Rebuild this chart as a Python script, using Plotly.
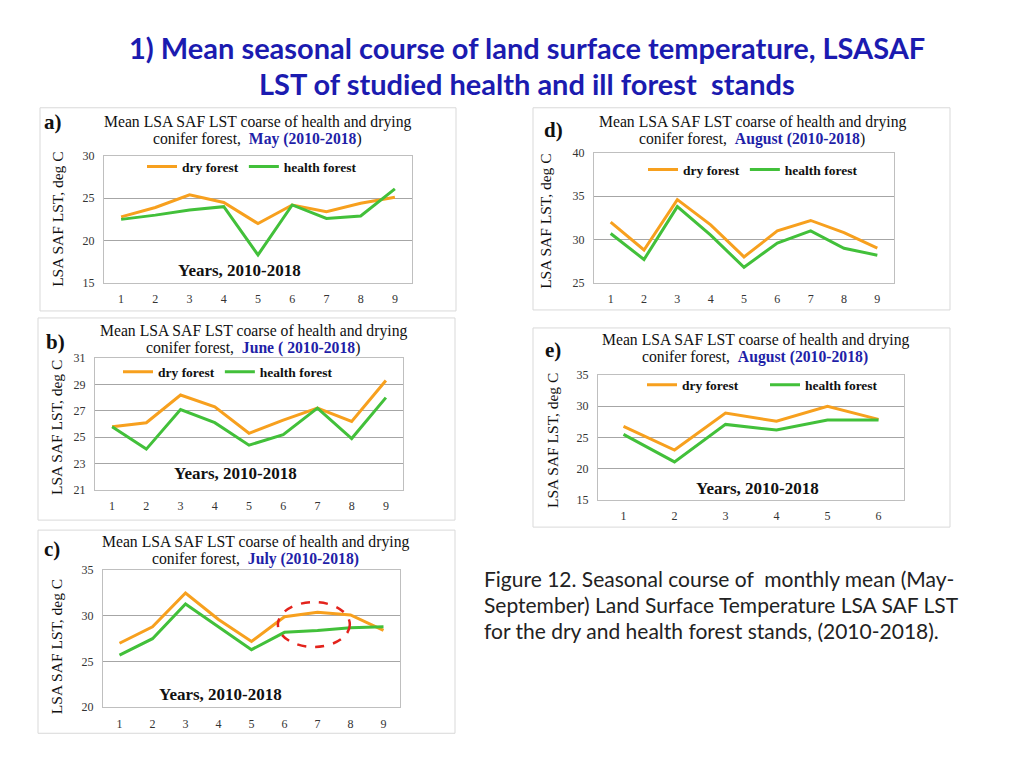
import plotly.graph_objects as go

W, H = 1024, 768

# ---------------- data ----------------
years9 = [1, 2, 3, 4, 5, 6, 7, 8, 9]
years6 = [1, 2, 3, 4, 5, 6]

may_dry = [22.8, 23.9, 25.4, 24.5, 22.0, 24.2, 23.4, 24.4, 25.1]
may_health = [22.5, 23.0, 23.6, 24.0, 18.3, 24.2, 22.6, 22.9, 26.1]

june_dry = [25.8, 26.1, 28.2, 27.3, 25.3, 26.3, 27.2, 26.2, 29.3]
june_health = [25.8, 24.1, 27.1, 26.1, 24.4, 25.2, 27.2, 24.9, 28.0]

july_dry = [27.0, 28.8, 32.5, 29.6, 27.2, 29.9, 30.4, 30.1, 28.4]
july_health = [25.7, 27.5, 31.3, 28.8, 26.3, 28.2, 28.4, 28.7, 28.8]

aug_dry = [32.0, 28.8, 34.6, 31.7, 28.0, 31.0, 32.2, 30.8, 29.0]
aug_health = [30.7, 27.7, 33.8, 30.5, 26.8, 29.6, 31.0, 29.0, 28.2]

aug2_dry = [26.8, 23.0, 28.9, 27.6, 30.0, 27.9]
aug2_health = [25.5, 21.1, 27.1, 26.2, 27.8, 27.8]

series_names = ["dry forest", "health forest"]
ORANGE = "#F7A01E"
GREEN = "#42C03A"
BLUE = "#1F1FA8"
TITLE_BLUE = "#1B1BB0"
SERIF = "Liberation Serif, Times New Roman, serif"
SANS = "Lato, Calibri, sans-serif"

def px(x):
    return x / W

def py(y):
    # compensate the small vertical offset/scale seen in the rendered page
    yd = (y - 7.3) / 0.981
    return 1 - yd / H

panels = [
    dict(lab="a)", ax="", xs=years9, dry=may_dry, hl=may_health,
         box=(104, 156, 412, 283), frame=(40, 108, 456, 311), yr=(15, 30), dt=5,
         month="<b>May (2010-2018</b>)", tcx=257, ty=122, labpos=(53, 122),
         leg=(142, 167), legw=0, years=(239, 271), ytit=(58, 220)),
    dict(lab="d)", ax="2", xs=years9, dry=aug_dry, hl=aug_health,
         box=(594, 153, 894, 283), frame=(533, 108, 950, 310), yr=(25, 40), dt=5,
         month="<b>August (2010-2018</b>)", tcx=752, ty=122, labpos=(553, 130),
         leg=(643, 170), legw=0, years=None, ytit=(546, 222)),
    dict(lab="b)", ax="3", xs=years9, dry=june_dry, hl=june_health,
         box=(95, 358, 403, 490), frame=(38, 318, 455, 520), yr=(21, 31), dt=2,
         month="<b>June ( 2010-2018</b>)", tcx=253, ty=331, labpos=(55, 342),
         leg=(118, 372), legw=0, years=(235, 473), ytit=(56, 428)),
    dict(lab="e)", ax="4", xs=years6, dry=aug2_dry, hl=aug2_health,
         box=(598, 375, 904, 500), frame=(533, 328, 950, 527), yr=(15, 35), dt=5,
         month="<b>August (2010-2018)</b>", tcx=755, ty=340, labpos=(553, 350),
         leg=(642, 385), legw=78, years=(757, 488), ytit=(552, 441)),
    dict(lab="c)", ax="5", xs=years9, dry=july_dry, hl=july_health,
         box=(103, 570, 400, 707), frame=(38, 530, 455, 733), yr=(20, 35), dt=5,
         month="<b>July (2010-2018)</b>", tcx=255, ty=542, labpos=(52, 549),
         leg=None, legw=0, years=(220, 694), ytit=(56, 647)),
]

fig = go.Figure()
layout = {}
annotations = []
shapes = []

for i, p in enumerate(panels):
    sfx = p["ax"]
    xa = "x" + sfx
    ya = "y" + sfx
    legname = "legend" if i == 0 else ("legend%d" % (i + 1))
    has_leg = p["leg"] is not None
    for name, vals, col in [(series_names[0], p["dry"], ORANGE), (series_names[1], p["hl"], GREEN)]:
        fig.add_trace(go.Scatter(
            x=p["xs"], y=vals, mode="lines", name=name,
            line=dict(color=col, width=3),
            xaxis=xa, yaxis=ya, showlegend=has_leg,
            legend=legname if has_leg else None,
            hoverinfo="x+y+name",
        ))
    l, t, r, b = p["box"]
    n = len(p["xs"])
    layout["xaxis" + sfx] = dict(
        domain=[px(l), px(r)], anchor=ya, range=[0.5, n + 0.5],
        tickvals=p["xs"], ticktext=[str(v) for v in p["xs"]],
        showgrid=False, zeroline=False, showline=True, mirror=True,
        linecolor="#BFBFBF", linewidth=1,
        ticks="outside", ticklen=5, tickcolor="rgba(0,0,0,0)",
        tickfont=dict(family=SERIF, size=12, color="#333333"), fixedrange=True,
    )
    layout["yaxis" + sfx] = dict(
        domain=[py(b), py(t)], anchor=xa, range=list(p["yr"]), dtick=p["dt"],
        tick0=p["yr"][0],
        showgrid=True, gridcolor="#A6A6A6", gridwidth=1, zeroline=False,
        showline=True, mirror=True, linecolor="#BFBFBF", linewidth=1,
        ticks="outside", ticklen=6, tickcolor="rgba(0,0,0,0)",
        tickfont=dict(family=SERIF, size=12, color="#333333"), fixedrange=True,
    )
    if has_leg:
        leg = dict(
            x=px(p["leg"][0]), y=py(p["leg"][1]), xanchor="left", yanchor="middle",
            orientation="h", bgcolor="rgba(0,0,0,0)", borderwidth=0,
            font=dict(family=SERIF, size=13.5, color="#111111", weight="bold"),
            itemwidth=30, tracegroupgap=0,
        )
        if p["legw"]:
            leg["entrywidth"] = p["legw"]
            leg["entrywidthmode"] = "pixels"
        layout[legname] = leg
    fl, ft, fr, fb = p["frame"]
    shapes.append(dict(type="rect", xref="paper", yref="paper",
                       x0=px(fl), x1=px(fr), y0=py(fb), y1=py(ft),
                       line=dict(color="#D9D9D9", width=1), fillcolor="rgba(0,0,0,0)",
                       layer="below"))
    annotations.append(dict(xref="paper", yref="paper", x=px(p["tcx"]), y=py(p["ty"]),
                            text="Mean LSA SAF LST coarse of health and drying",
                            showarrow=False, xanchor="center", yanchor="middle",
                            font=dict(family=SERIF, size=15.7, color="#111111")))
    month = p["month"].replace("<b>", "<span style='color:%s'><b>" % BLUE).replace("</b>", "</b></span>")
    annotations.append(dict(xref="paper", yref="paper", x=px(p["tcx"]), y=py(p["ty"] + 17),
                            text="conifer forest,  " + month,
                            showarrow=False, xanchor="center", yanchor="middle",
                            font=dict(family=SERIF, size=15.7, color="#111111")))
    annotations.append(dict(xref="paper", yref="paper", x=px(p["labpos"][0]), y=py(p["labpos"][1]),
                            text="<b>%s</b>" % p["lab"], showarrow=False,
                            xanchor="center", yanchor="middle",
                            font=dict(family=SERIF, size=21, color="#111111")))
    annotations.append(dict(xref="paper", yref="paper", x=px(p["ytit"][0]), y=py(p["ytit"][1]),
                            text="LSA SAF LST, deg C", textangle=-90, showarrow=False,
                            xanchor="center", yanchor="middle",
                            font=dict(family=SERIF, size=15.5, color="#111111")))
    if p["years"] is not None:
        annotations.append(dict(xref="paper", yref="paper", x=px(p["years"][0]), y=py(p["years"][1]),
                                text="<b>Years, 2010-2018</b>", showarrow=False,
                                xanchor="center", yanchor="middle",
                                font=dict(family=SERIF, size=17, color="#111111")))

# red dashed ellipse on panel c
shapes.append(dict(type="circle", xref="x5", yref="y5", x0=5.8, x1=7.98, y0=26.6, y1=31.5,
                   line=dict(color="#E3231C", width=2.5, dash="dash"), fillcolor="rgba(0,0,0,0)"))

# main title
annotations.append(dict(xref="paper", yref="paper", x=px(527), y=py(48),
                        text="<b>1) Mean seasonal course of land surface temperature, LSASAF</b>",
                        showarrow=False, xanchor="center", yanchor="middle",
                        font=dict(family=SANS, size=29, color=TITLE_BLUE)))
annotations.append(dict(xref="paper", yref="paper", x=px(527), y=py(84),
                        text="<b>LST of studied health and ill forest  stands</b>",
                        showarrow=False, xanchor="center", yanchor="middle",
                        font=dict(family=SANS, size=29, color=TITLE_BLUE)))

caption_lines = [
    "Figure 12. Seasonal course of  monthly mean (May-",
    "September) Land Surface Temperature LSA SAF LST",
    "for the dry and health forest stands, (2010-2018).",
]
for k, line in enumerate(caption_lines):
    annotations.append(dict(xref="paper", yref="paper", x=px(482), y=py(578 + 26 * k),
                            text=line, showarrow=False, xanchor="left", yanchor="middle",
                            font=dict(family=SANS, size=21, color="#222222")))

fig.update_layout(
    width=W, height=H, margin=dict(l=0, r=0, t=0, b=0),
    paper_bgcolor="white", plot_bgcolor="white",
    annotations=annotations, shapes=shapes, showlegend=True,
    **layout,
)

fig.write_html("out.html", config={"displayModeBar": False},
               post_script="document.body.style.margin='0';document.body.style.overflow='hidden';")
